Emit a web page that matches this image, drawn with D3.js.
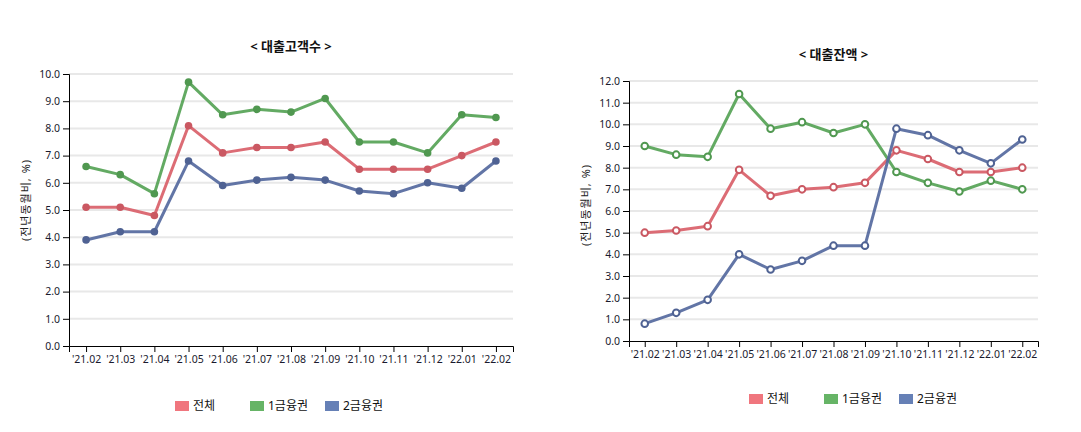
<!DOCTYPE html>
<html>
<head>
<meta charset="utf-8">
<script src="https://cdn.jsdelivr.net/npm/d3@7"></script>
<style>
  body { margin: 0; background: #fff; }
  svg text { font-family: "Noto Sans", "Noto Sans CJK KR", sans-serif; }
  .tick text { font-size: 10.5px; fill: #1a1a2e; }
  .domain, .tick line { stroke: #000; }
</style>
</head>
<body>
<div id="container"></div>
<script>
/* DATA */
const months = ["'21.02", "'21.03", "'21.04", "'21.05", "'21.06", "'21.07", "'21.08",
  "'21.09", "'21.10", "'21.11", "'21.12", "'22.01", "'22.02"];
const seriesNames = ["전체", "1금융권", "2금융권"];

// < 대출고객수 >
const customersTotal = [5.1, 5.1, 4.8, 8.1, 7.1, 7.3, 7.3, 7.5, 6.5, 6.5, 6.5, 7.0, 7.5];
const customersBank1 = [6.6, 6.3, 5.6, 9.7, 8.5, 8.7, 8.6, 9.1, 7.5, 7.5, 7.1, 8.5, 8.4];
const customersBank2 = [3.9, 4.2, 4.2, 6.8, 5.9, 6.1, 6.2, 6.1, 5.7, 5.6, 6.0, 5.8, 6.8];
const customerTicks = [0, 1, 2, 3, 4, 5, 6, 7, 8, 9, 10];

// < 대출잔액 >
const balanceTotal = [5.0, 5.1, 5.3, 7.9, 6.7, 7.0, 7.1, 7.3, 8.8, 8.4, 7.8, 7.8, 8.0];
const balanceBank1 = [9.0, 8.6, 8.5, 11.4, 9.8, 10.1, 9.6, 10.0, 7.8, 7.3, 6.9, 7.4, 7.0];
const balanceBank2 = [0.8, 1.3, 1.9, 4.0, 3.3, 3.7, 4.4, 4.4, 9.8, 9.5, 8.8, 8.2, 9.3];
const balanceTicks = [0, 1, 2, 3, 4, 5, 6, 7, 8, 9, 10, 11, 12];

const yLabel = "(전년동월비, %)";

const lineColors = ["#d95f69", "#56a356", "#55699e"];
const legendColors = ["#f0767e", "#66b466", "#6680b6"];

const width = 1081, height = 432;

const svg = d3.select("#container").append("svg")
  .attr("width", width)
  .attr("height", height);

// one chart: box is the plot area, hollow = open circle markers
function drawChart(cfg) {
  const g = svg.append("g");

  const x = d3.scalePoint()
    .domain(months)
    .range([cfg.left, cfg.right])
    .padding(0.5);

  const y = d3.scaleLinear()
    .domain([0, d3.max(cfg.ticks)])
    .range([cfg.bottom, cfg.top]);

  // gridlines
  g.append("g")
    .selectAll("line")
    .data(cfg.ticks.slice(1))
    .join("line")
    .attr("x1", cfg.left)
    .attr("x2", cfg.right)
    .attr("y1", d => y(d))
    .attr("y2", d => y(d))
    .attr("stroke", "#e8e8e8")
    .attr("stroke-width", 2);

  g.append("g")
    .attr("transform", `translate(0, ${cfg.bottom})`)
    .call(d3.axisBottom(x).tickSize(6).tickPadding(4));

  g.append("g")
    .attr("transform", `translate(${cfg.left}, 0)`)
    .call(d3.axisLeft(y).tickValues(cfg.ticks).tickFormat(d3.format(".1f")).tickSize(6).tickPadding(3));

  // title
  g.append("text")
    .attr("x", (cfg.left + cfg.right) / 2)
    .attr("y", cfg.titleY)
    .attr("text-anchor", "middle")
    .attr("font-size", 13)
    .attr("font-weight", "bold")
    .attr("fill", "#111")
    .text(cfg.title);

  // y label
  g.append("text")
    .attr("transform", `translate(${cfg.yLabelX}, ${cfg.yLabelY}) rotate(-90)`)
    .attr("text-anchor", "middle")
    .attr("font-size", 11)
    .attr("letter-spacing", 1)
    .attr("fill", "#222")
    .text(yLabel);

  const lineGen = d3.line()
    .x((d, i) => x(months[i]))
    .y(d => y(d));

  cfg.series.forEach((vals, k) => {
    g.append("path")
      .datum(vals)
      .attr("fill", "none")
      .attr("stroke", lineColors[k])
      .attr("stroke-width", 3)
      .attr("stroke-opacity", 0.92)
      .attr("stroke-linejoin", "round")
      .attr("d", lineGen);

    g.append("g")
      .selectAll("circle")
      .data(vals)
      .join("circle")
      .attr("cx", (d, i) => x(months[i]))
      .attr("cy", d => y(d))
      .attr("r", cfg.hollow ? 3.3 : 3.8)
      .attr("fill", cfg.hollow ? "#fff" : d3.color(lineColors[k]).darker(0.2))
      .attr("stroke", cfg.hollow ? d3.color(lineColors[k]).darker(0.2) : "none")
      .attr("stroke-width", 2);
  });

  // legend
  const leg = g.append("g")
    .selectAll("g")
    .data(seriesNames)
    .join("g")
    .attr("transform", (d, i) => `translate(${cfg.legendX + i * 75}, ${cfg.legendY})`);

  leg.append("rect")
    .attr("width", 14)
    .attr("height", 10)
    .attr("y", -5)
    .attr("fill", (d, i) => legendColors[i]);

  leg.append("text")
    .attr("x", 18)
    .attr("dy", "0.35em")
    .attr("font-size", 12)
    .attr("fill", "#111")
    .text(d => d);
}

drawChart({
  title: "< 대출고객수 >",
  titleY: 51,
  left: 69, right: 513, top: 74, bottom: 346,
  ticks: customerTicks,
  series: [customersTotal, customersBank1, customersBank2],
  hollow: false,
  yLabelX: 30, yLabelY: 200,
  legendX: 175, legendY: 406
});

drawChart({
  title: "< 대출잔액 >",
  titleY: 59,
  left: 629, right: 1038, top: 81, bottom: 341,
  ticks: balanceTicks,
  series: [balanceTotal, balanceBank1, balanceBank2],
  hollow: true,
  yLabelX: 590, yLabelY: 205,
  legendX: 749, legendY: 399
});
</script>
</body>
</html>
